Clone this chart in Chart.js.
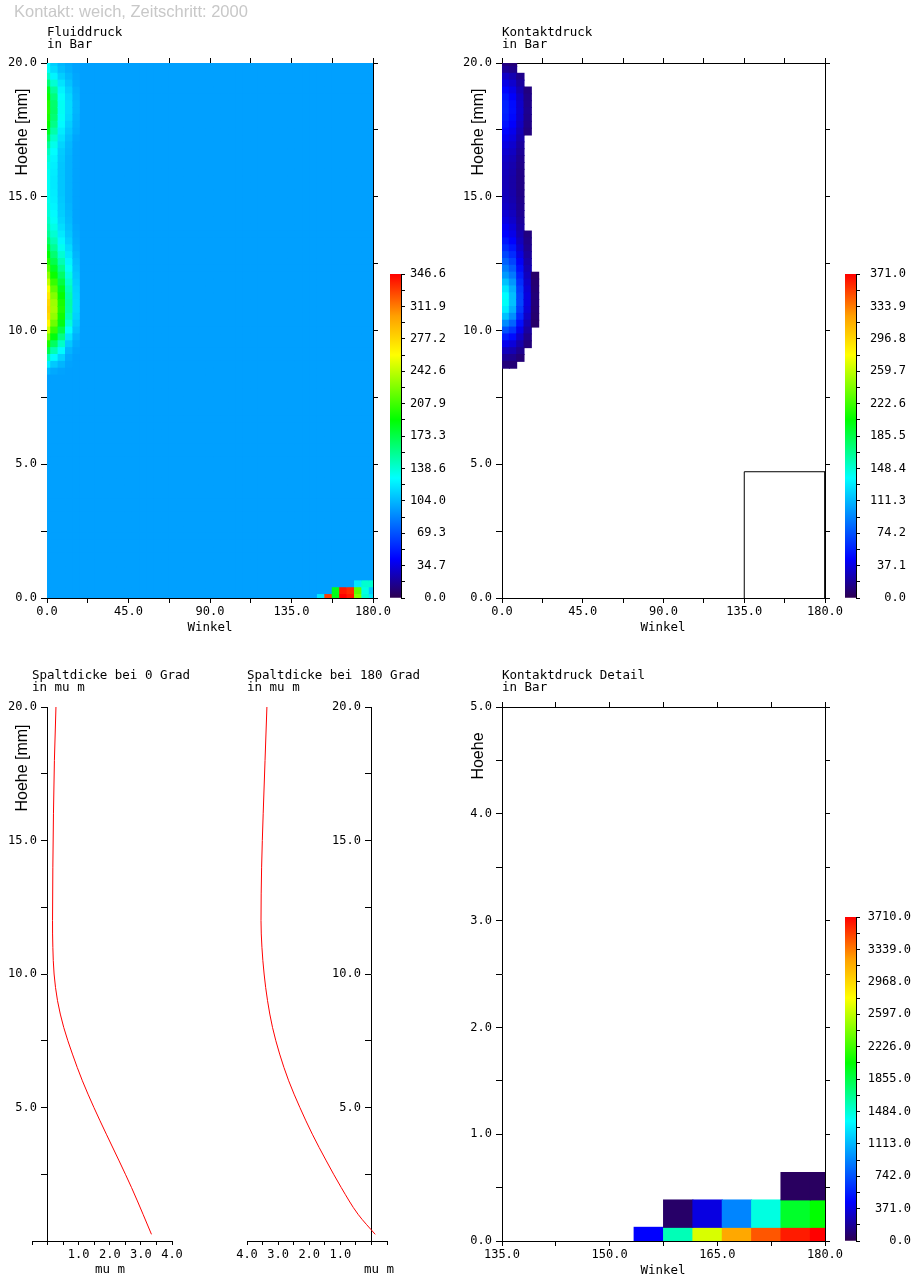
<!DOCTYPE html>
<html><head><meta charset="utf-8">
<script src="https://cdn.jsdelivr.net/npm/chart.js@4.4.1/dist/chart.umd.min.js"></script>
<style>
html,body{margin:0;padding:0;background:#fff;}
#wrap{position:relative;width:914px;height:1279px;overflow:hidden;background:#fff;}
canvas{position:absolute;left:0;top:0;}
.t{position:absolute;white-space:pre;font-family:'DejaVu Sans Mono',monospace;font-size:12.5px;line-height:12.5px;color:#000;}
.c{transform:translateX(-50%);}
.big{position:absolute;white-space:pre;font-family:'Liberation Sans',Arial,sans-serif;font-size:16.5px;line-height:16.5px;color:#c8c8c8;}
.rot{position:absolute;white-space:pre;font-family:'Liberation Sans',Arial,sans-serif;font-size:16px;line-height:16px;color:#000;transform:translate(-50%,-50%) rotate(-90deg);}
</style></head>
<body>
<div id="wrap">
<canvas id="cA" width="914" height="1279"></canvas>
<canvas id="cB" width="914" height="1279"></canvas>
<canvas id="cC" width="914" height="1279"></canvas>
<canvas id="cD" width="914" height="1279"></canvas>
<canvas id="cE" width="914" height="1279"></canvas>
<canvas id="cb1" width="914" height="1279"></canvas>
<canvas id="cb2" width="914" height="1279"></canvas>
<canvas id="cb3" width="914" height="1279"></canvas>

<div class="big" style="left:14px;top:3px">Kontakt: weich, Zeitschritt: 2000</div>
<div class="t" style="left:47px;top:26px">Fluiddruck</div>
<div class="t" style="left:47px;top:38px">in Bar</div>
<div class="t" style="left:502px;top:26px">Kontaktdruck</div>
<div class="t" style="left:502px;top:38px">in Bar</div>
<div class="t" style="left:32px;top:669px">Spaltdicke bei 0 Grad</div>
<div class="t" style="left:32px;top:681px">in mu m</div>
<div class="t" style="left:247px;top:669px">Spaltdicke bei 180 Grad</div>
<div class="t" style="left:247px;top:681px">in mu m</div>
<div class="t" style="left:502px;top:669px">Kontaktdruck Detail</div>
<div class="t" style="left:502px;top:681px">in Bar</div>
<div class="t c" style="left:210px;top:621px">Winkel</div>
<div class="t c" style="left:663px;top:621px">Winkel</div>
<div class="t c" style="left:663px;top:1264px">Winkel</div>
<div class="t c" style="left:110px;top:1263px">mu m</div>
<div class="t c" style="left:379px;top:1263px">mu m</div>
<div class="rot" style="left:22px;top:132px">Hoehe [mm]</div>
<div class="rot" style="left:478px;top:132px">Hoehe [mm]</div>
<div class="rot" style="left:22px;top:768px">Hoehe [mm]</div>
<div class="rot" style="left:478px;top:756px">Hoehe</div>
</div>
<script>
// ---------------- data ----------------
// grid angles (deg) of the cell centres
const angles = [0, 4.09, 8.18, 12.27, 16.36, 20.45, 24.55, 28.64, 32.73, 36.82, 40.91, 45, 49.09, 53.18, 57.27, 61.36, 65.45, 69.55, 73.64, 77.73, 81.82, 85.91, 90, 94.09, 98.18, 102.27, 106.36, 110.45, 114.55, 118.64, 122.73, 126.82, 130.91, 135, 139.09, 143.18, 147.27, 151.36, 155.45, 159.55, 163.64, 167.73, 171.82, 175.91, 180];
// grid heights (mm) of the cell centres, from top (20) to bottom (0)
const heights = [20, 19.744, 19.487, 19.231, 18.974, 18.718, 18.462, 18.205, 17.949, 17.692, 17.436, 17.179, 16.923, 16.667, 16.41, 16.154, 15.897, 15.641, 15.385, 15.128, 14.872, 14.615, 14.359, 14.103, 13.846, 13.59, 13.333, 13.077, 12.821, 12.564, 12.308, 12.051, 11.795, 11.538, 11.282, 11.026, 10.769, 10.513, 10.256, 10, 9.744, 9.487, 9.231, 8.974, 8.718, 8.462, 8.205, 7.949, 7.692, 7.436, 7.179, 6.923, 6.667, 6.41, 6.154, 5.897, 5.641, 5.385, 5.128, 4.872, 4.615, 4.359, 4.103, 3.846, 3.59, 3.333, 3.077, 2.821, 2.564, 2.308, 2.051, 1.795, 1.538, 1.282, 1.026, 0.769, 0.513, 0.256, 0];

// Fluid pressure (bar): uniform field value and the first columns (rows from the top; rows not listed = fluidBase)
const fluidMax = 346.6;
const fluidBase = 96;
const fluidCol0 = [126,130,142,162,182,194,200,201,198,192,182,168,154,144,138,134,132,131,131,132,133,135,138,142,147,154,165,178,190,200,213,228,243,258,270,278,281,276,264,246,223,198,172,146,122,104];
const fluidCol1 = [112,116,125,139,152,160,164,165,162,157,149,140,133,128,125,123,122,121,121,122,123,125,127,130,134,139,146,154,163,172,182,193,205,216,226,233,235,230,220,205,187,167,147,127,110,99];
const fluidCol2 = [104,106,112,119,125,129,131,131,130,127,122,118,114,111,110,109,109,109,109,109,110,111,112,114,117,121,126,132,139,147,156,166,175,184,192,197,199,195,186,173,158,142,127,113,103,97];
const fluidCol3 = [100,101,104,108,112,115,116,116,115,112,109,106,104,103,102,102,102,102,102,102,102,103,104,105,107,109,112,116,120,125,130,135,140,145,148,150,149,145,138,129,119,110,103,99,97,96];
const fluidCol4 = [97,97,98,99,101,102,103,103,102,101,100,98,97,97,97,97,97,97,97,97,97,97,97,97,98,99,100,101,103,105,107,109,111,113,114,115,115,113,110,106,102,99,97,96,96,96];
// bottom right corner (columns 37..44, rows at 0.513, 0.256 and 0 mm)
const fluidCornerCols = [37, 38, 39, 40, 41, 42, 43, 44];
const fluidCornerAt0513 = [96, 96, 96, 96, 96, 120, 140, 140];
const fluidCornerAt0256 = [96, 96, 185, 340, 335, 215, 135, 110];
const fluidCornerAt0 = [120, 330, 185, 346.6, 340, 225, 140, 120];

// Contact pressure (bar): cell centre angles of the contact columns, rows from the top (0 = no contact)
const contactMax = 371.0;
const contactAngles = [2.05, 6.14, 10.23, 14.32, 18.41];
const contactCol0 = [12,18,30,38,46,52,56,57,55,51,46,41,37,33,30,28,27,26,26,27,28,30,33,37,42,45,52,60,70,80,90,100,115,128,137,139,131,115,95,74,55,40,28,18,11];
const contactCol1 = [10,15,25,32,39,44,48,49,47,44,40,36,32,29,26,24,23,22,22,23,24,26,28,31,35,39,45,52,60,69,78,88,99,108,114,115,109,97,81,64,48,35,25,16,10];
const contactCol2 = [0,0,15,20,25,29,31,32,31,29,26,23,20,18,16,15,14,14,14,14,15,16,17,19,21,24,28,32,37,43,49,55,61,66,69,70,66,59,50,40,31,23,16,10,0];
const contactCol3 = [0,0,0,0,12,14,15,16,15,14,12,0,0,0,0,0,0,0,0,0,0,0,0,0,0,12,14,16,19,22,25,28,31,34,36,36,34,30,25,20,15,11,0,0,0];
const contactCol4 = [0,0,0,0,0,0,0,0,0,0,0,0,0,0,0,0,0,0,0,0,0,0,0,0,0,0,0,0,0,0,0,6,8,9,10,10,9,8,6,0,0,0,0,0,0];
// outline of the detail window (angle, height)
const boxAngles = [135, 135, 180, 180];
const boxHeights = [0, 4.72, 4.72, 0];

// Contact pressure detail (bar)
const detailMax = 3710.0;
const detailAngles = [155.45, 159.55, 163.64, 167.73, 171.82, 175.91, 180];
const detailHeights = [0, 0.256, 0.513];
const detailRow0 = [445, 1560, 2670, 3190, 3450, 3630, 3710];
const detailRow1 = [0, 60, 370, 930, 1450, 1930, 2040];
const detailRow2 = [0, 0, 0, 0, 0, 40, 40];

// Gap thickness (mu m) vs height (mm)
const gapHeights = [20, 18, 16, 14, 12, 11, 10, 9, 8, 7, 6, 5, 4, 3, 2, 1, 0.25];
const gap0 = [0.27, 0.22, 0.19, 0.17, 0.16, 0.17, 0.21, 0.32, 0.52, 0.80, 1.12, 1.49, 1.89, 2.30, 2.70, 3.07, 3.34];
const gap180 = [3.36, 3.42, 3.48, 3.53, 3.55, 3.52, 3.45, 3.34, 3.18, 2.95, 2.66, 2.30, 1.90, 1.45, 0.97, 0.43, -0.12];

// colour bar tick labels
const fluidBarLabels = ['0.0','34.7','69.3','104.0','138.6','173.3','207.9','242.6','277.2','311.9','346.6'];
const contactBarLabels = ['0.0','37.1','74.2','111.3','148.4','185.5','222.6','259.7','296.8','333.9','371.0'];
const detailBarLabels = ['0.0','371.0','742.0','1113.0','1484.0','1855.0','2226.0','2597.0','2968.0','3339.0','3710.0'];

// ---------------- helpers ----------------
const MONO = "'DejaVu Sans Mono', monospace";
const cmapStops = [[0,45,0,80],[0.12,0,0,255],[0.37,0,255,255],[0.55,0,255,0],[0.75,255,255,0],[0.87,255,160,0],[1,255,0,0]];
function cmap(t){
  t = Math.max(0, Math.min(1, t));
  for (let i = 1; i < cmapStops.length; i++) {
    const a = cmapStops[i-1], b = cmapStops[i];
    if (t <= b[0]) {
      const f = (t - a[0]) / (b[0] - a[0]);
      const c = j => Math.round(a[j] + f * (b[j] - a[j]));
      return 'rgb(' + c(1) + ',' + c(2) + ',' + c(3) + ')';
    }
  }
  return 'rgb(255,0,0)';
}
const ROW_HALF = 10 / 78;
function merge(a, b){
  const o = Array.isArray(a) ? a.slice() : Object.assign({}, a);
  for (const k in b) {
    if (b[k] && typeof b[k] === 'object' && !Array.isArray(b[k]) && a[k] && typeof a[k] === 'object') o[k] = merge(a[k], b[k]);
    else o[k] = b[k];
  }
  return o;
}
function ax(extra){
  return merge({
    type: 'linear',
    offset: false,
    grid: { display: true, offset: false, drawOnChartArea: false, drawTicks: true, tickLength: 5, color: '#000', lineWidth: 1 },
    border: { display: true, color: '#000', width: 1 },
    ticks: { color: '#000', font: { family: MONO, size: 12 }, autoSkip: false, maxRotation: 0, minRotation: 0, padding: 3 }
  }, extra);
}
const fix = (w, h) => (s => { if (w !== null) s.width = w; if (h !== null) s.height = h; });
const baseOpts = { animation: false, responsive: false, devicePixelRatio: 1, events: [], plugins: { legend: { display: false }, tooltip: { enabled: false } } };
const isMul = (v, m, o) => Math.abs(((v - (o || 0)) / m) - Math.round((v - (o || 0)) / m)) < 1e-6;
const cellSet = { barPercentage: 1, categoryPercentage: 1, borderWidth: 0, inflateAmount: 0.5, clip: 0, grouped: false };

// ---------------- A: Fluiddruck ----------------
const fluidProfiles = [fluidCol0, fluidCol1, fluidCol2, fluidCol3, fluidCol4];
const fluidGrid = angles.map((a, c) => heights.map((h, k) => (c < fluidProfiles.length && fluidProfiles[c][k] !== undefined) ? fluidProfiles[c][k] : fluidBase));
fluidCornerCols.forEach((c, j) => { fluidGrid[c][76] = fluidCornerAt0513[j]; fluidGrid[c][77] = fluidCornerAt0256[j]; fluidGrid[c][78] = fluidCornerAt0[j]; });
const fluidCells = [], fluidColors = [];
angles.forEach((a, c) => heights.forEach((h, k) => {
  fluidCells.push({ x: a, y: [h - ROW_HALF, h + ROW_HALF] });
  fluidColors.push(cmap(fluidGrid[c][k] / fluidMax));
}));

function mapScales(xmin, xmax, xstep, xlab, ymin, ymax, ystep, ylab, left, right, top, bottom){
  return {
    x: ax({ position: 'bottom', min: xmin, max: xmax, afterFit: fix(null, bottom), ticks: { stepSize: xstep, padding: 2, callback: v => xlab(v) ? v.toFixed(1) : '' } }),
    xt: ax({ axis: 'x', position: 'top', min: xmin, max: xmax, afterFit: fix(null, top), ticks: { display: false, stepSize: xstep } }),
    y: ax({ position: 'left', min: ymin, max: ymax, afterFit: fix(left, null), grid: { tickLength: 6 }, ticks: { stepSize: ystep, padding: 4, callback: v => ylab(v) ? v.toFixed(1) : '' } }),
    yr: ax({ axis: 'y', position: 'right', min: ymin, max: ymax, afterFit: fix(right, null), ticks: { display: false, stepSize: ystep } })
  };
}

new Chart(document.getElementById('cA'), {
  type: 'bar',
  data: { datasets: [Object.assign({ data: fluidCells, backgroundColor: fluidColors }, cellSet)] },
  options: merge(baseOpts, { scales: mapScales(0, 180, 22.5, v => isMul(v, 45), 0, 20, 2.5, v => isMul(v, 5), 47, 914 - 373, 63, 1279 - 598) })
});

// ---------------- B: Kontaktdruck ----------------
const contactCols = [contactCol0, contactCol1, contactCol2, contactCol3, contactCol4];
const contactCells = [], contactColors = [];
contactCols.forEach((col, c) => col.forEach((v, k) => {
  if (v > 0) { contactCells.push({ x: contactAngles[c], y: [heights[k] - ROW_HALF, heights[k] + ROW_HALF] }); contactColors.push(cmap(v / contactMax)); }
}));
new Chart(document.getElementById('cB'), {
  type: 'bar',
  data: { datasets: [
    Object.assign({ data: contactCells, backgroundColor: contactColors }, cellSet),
    { type: 'line', data: boxAngles.map((a, i) => ({ x: a, y: boxHeights[i] })), borderColor: '#000', borderWidth: 1, pointRadius: 0, tension: 0, fill: false }
  ] },
  options: merge(baseOpts, { scales: mapScales(0, 180, 22.5, v => isMul(v, 45), 0, 20, 2.5, v => isMul(v, 5), 502, 914 - 825, 63, 1279 - 598) })
});

// ---------------- E: Kontaktdruck Detail ----------------
const detailRows = [detailRow0, detailRow1, detailRow2];
const detailCells = [], detailColors = [];
detailRows.forEach((row, r) => row.forEach((v, c) => {
  if (v > 0) { detailCells.push({ x: detailAngles[c], y: [detailHeights[r] - ROW_HALF, detailHeights[r] + ROW_HALF] }); detailColors.push(cmap(v / detailMax)); }
}));
new Chart(document.getElementById('cE'), {
  type: 'bar',
  data: { datasets: [Object.assign({ data: detailCells, backgroundColor: detailColors }, cellSet)] },
  options: merge(baseOpts, { scales: mapScales(135, 180, 7.5, v => isMul(v, 15, 135), 0, 5, 0.5, v => isMul(v, 1), 502, 914 - 825, 707, 1279 - 1241) })
});

// ---------------- C / D: Spaltdicke ----------------
const mctx = document.createElement('canvas').getContext('2d');
mctx.font = "12px " + MONO;
const widestYLabel = mctx.measureText('20.0').width;
const gapLabel = v => (v > 0 && isMul(v, 5)) ? v.toFixed(1) : '';
// labels of the axis at gap = 0 come from a mirrored helper axis so that they sit left of that axis line
function gapChart(id, gaps, reverse, areaLeft, areaRight, labelEnd, labelSide){
  const yl = labelSide === 'left'
    ? ax({ axis: 'y', position: 'left', min: 0, max: 20, afterFit: fix(areaLeft, null), grid: { display: false, drawTicks: false }, border: { display: false },
        ticks: { stepSize: 2.5, mirror: true, crossAlign: 'far', padding: labelEnd - areaLeft - widestYLabel, callback: gapLabel } })
    : ax({ axis: 'y', position: 'right', min: 0, max: 20, afterFit: fix(914 - areaRight, null), grid: { display: false, drawTicks: false }, border: { display: false },
        ticks: { stepSize: 2.5, mirror: true, crossAlign: 'near', padding: labelEnd - areaRight, callback: gapLabel } });
  new Chart(document.getElementById(id), {
    type: 'line',
    data: { datasets: [{ data: gapHeights.map((h, i) => ({ x: gaps[i], y: h })), borderColor: '#ff0000', borderWidth: 1, pointRadius: 0, cubicInterpolationMode: 'monotone', fill: false, clip: false }] },
    options: merge(baseOpts, {
      indexAxis: 'y',
      layout: { padding: { left: labelSide === 'left' ? 0 : areaLeft, right: labelSide === 'left' ? 914 - areaRight : 0, top: 707, bottom: 0 } },
      scales: {
        x: ax({ position: 'bottom', min: -0.5, max: 4, reverse: reverse, afterFit: fix(null, 1279 - 1241), grid: { tickLength: 4 }, ticks: { stepSize: 0.5, padding: 3, callback: v => (v >= 1 && isMul(v, 1)) ? v.toFixed(1) : '' } }),
        // axis line and tick marks at gap = 0
        y: ax({ position: { x: 0 }, min: 0, max: 20, grid: { tickLength: 6 }, ticks: { display: false, stepSize: 2.5 } }),
        yl: yl
      }
    })
  });
}
gapChart('cC', gap0, false, 32, 172, 37, 'left');
gapChart('cD', gap180, true, 247, 387, 361, 'right');

// ---------------- colour bars ----------------
function colorBar(id, max, labels, left, top, bottom, axisWidth, rightPad){
  new Chart(document.getElementById(id), {
    type: 'bar',
    data: { labels: [''], datasets: [{ data: [[0, max]], barPercentage: 1, categoryPercentage: 1, borderWidth: 0,
      backgroundColor: c => {
        const ch = c.chart, ys = ch.scales.y;
        if (!ys || !ch.chartArea) return '#888';
        const g = ch.ctx.createLinearGradient(0, ys.getPixelForValue(0), 0, ys.getPixelForValue(max));
        cmapStops.forEach(s => g.addColorStop(s[0], 'rgb(' + s[1] + ',' + s[2] + ',' + s[3] + ')'));
        return g;
      } }] },
    options: merge(baseOpts, {
      layout: { padding: { left: left, top: top, bottom: bottom, right: rightPad } },
      scales: {
        x: { type: 'category', display: false },
        y: ax({ position: 'right', min: 0, max: max, afterFit: fix(axisWidth, null),
          afterBuildTicks: s => { const t = []; for (let i = 0; i <= 20; i++) t.push({ value: max * i / 20 }); s.ticks = t; },
          grid: { tickLength: 4 },
          ticks: { crossAlign: 'far', padding: 5, callback: (v, i) => (i % 2 === 0) ? labels[i / 2] : '' } })
      }
    })
  });
}
colorBar('cb1', fluidMax, fluidBarLabels, 390, 274, 1279 - 598, 45, 914 - 446);
colorBar('cb2', contactMax, contactBarLabels, 845, 274, 1279 - 598, 50, 914 - 906);
colorBar('cb3', detailMax, detailBarLabels, 845, 917, 1279 - 1241, 55, 914 - 911);
</script>
</body></html>
